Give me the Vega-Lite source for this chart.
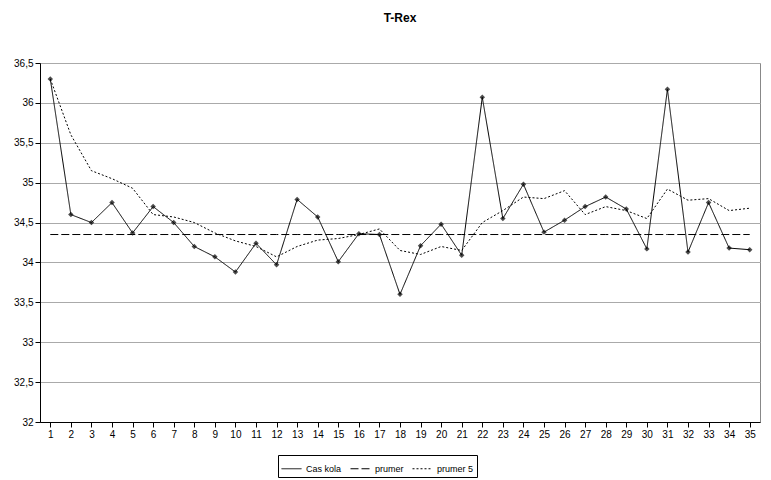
{
  "$schema": "https://vega.github.io/schema/vega-lite/v6.json",
  "width": 720,
  "height": 359,
  "autosize": {"type": "none"},
  "padding": {"left": 40, "top": 63, "right": 11, "bottom": 58},
  "background": "white",
  "title": {"text": "T-Rex", "fontSize": 12, "font": "Arial", "fontWeight": "bold", "offset": 33, "anchor": "middle"},
  "config": {
    "view": {"stroke": "#888"},
    "axis": {"labelFont": "Arial", "labelFontSize": 10, "labelColor": "black", "domainColor": "black", "tickColor": "black"},
    "legend": {"labelFont": "Arial", "labelFontSize": 10}
  },
  "data": {"values": [
    {"x": 1, "cas": 36.3, "prumer": 34.35, "p5": 36.3},
    {"x": 2, "cas": 34.6, "prumer": 34.35, "p5": 35.6},
    {"x": 3, "cas": 34.5, "prumer": 34.35, "p5": 35.15},
    {"x": 4, "cas": 34.75, "prumer": 34.35, "p5": 35.05},
    {"x": 5, "cas": 34.37, "prumer": 34.35, "p5": 34.93},
    {"x": 6, "cas": 34.7, "prumer": 34.35, "p5": 34.6},
    {"x": 7, "cas": 34.5, "prumer": 34.35, "p5": 34.57},
    {"x": 8, "cas": 34.2, "prumer": 34.35, "p5": 34.5},
    {"x": 9, "cas": 34.07, "prumer": 34.35, "p5": 34.37},
    {"x": 10, "cas": 33.88, "prumer": 34.35, "p5": 34.27},
    {"x": 11, "cas": 34.24, "prumer": 34.35, "p5": 34.2},
    {"x": 12, "cas": 33.97, "prumer": 34.35, "p5": 34.07},
    {"x": 13, "cas": 34.79, "prumer": 34.35, "p5": 34.2},
    {"x": 14, "cas": 34.57, "prumer": 34.35, "p5": 34.28},
    {"x": 15, "cas": 34.01, "prumer": 34.35, "p5": 34.3},
    {"x": 16, "cas": 34.36, "prumer": 34.35, "p5": 34.35},
    {"x": 17, "cas": 34.35, "prumer": 34.35, "p5": 34.42},
    {"x": 18, "cas": 33.6, "prumer": 34.35, "p5": 34.15},
    {"x": 19, "cas": 34.21, "prumer": 34.35, "p5": 34.1},
    {"x": 20, "cas": 34.48, "prumer": 34.35, "p5": 34.2},
    {"x": 21, "cas": 34.09, "prumer": 34.35, "p5": 34.15},
    {"x": 22, "cas": 36.07, "prumer": 34.35, "p5": 34.5},
    {"x": 23, "cas": 34.55, "prumer": 34.35, "p5": 34.65},
    {"x": 24, "cas": 34.98, "prumer": 34.35, "p5": 34.82},
    {"x": 25, "cas": 34.38, "prumer": 34.35, "p5": 34.8},
    {"x": 26, "cas": 34.53, "prumer": 34.35, "p5": 34.9},
    {"x": 27, "cas": 34.7, "prumer": 34.35, "p5": 34.6},
    {"x": 28, "cas": 34.82, "prumer": 34.35, "p5": 34.7},
    {"x": 29, "cas": 34.67, "prumer": 34.35, "p5": 34.65},
    {"x": 30, "cas": 34.17, "prumer": 34.35, "p5": 34.55},
    {"x": 31, "cas": 36.17, "prumer": 34.35, "p5": 34.92},
    {"x": 32, "cas": 34.13, "prumer": 34.35, "p5": 34.78},
    {"x": 33, "cas": 34.75, "prumer": 34.35, "p5": 34.8},
    {"x": 34, "cas": 34.18, "prumer": 34.35, "p5": 34.65},
    {"x": 35, "cas": 34.16, "prumer": 34.35, "p5": 34.68}
  ]},
  "transform": [
    {"fold": ["cas", "prumer", "p5"], "as": ["key", "value"]},
    {"calculate": "datum.key == 'cas' ? 'Cas kola' : datum.key == 'prumer' ? 'prumer' : 'prumer 5'", "as": "series"}
  ],
  "encoding": {
    "x": {"field": "x", "type": "ordinal", "title": null,
      "scale": {"paddingInner": 0, "paddingOuter": 0},
      "axis": {"labelAngle": 0, "grid": false, "ticks": true}},
    "y": {"field": "value", "type": "quantitative", "title": null,
      "scale": {"domain": [32, 36.5], "nice": false, "zero": false},
      "axis": {"values": [32, 32.5, 33, 33.5, 34, 34.5, 35, 35.5, 36, 36.5], "format": ".1~f", "formatType": "number", "labelExpr": "replace(datum.label, '.', ',')", "gridColor": "#aaa", "gridOpacity": 1}}
  },
  "layer": [
    {
      "mark": {"type": "line", "strokeWidth": 1},
      "encoding": {
        "detail": {"field": "series"},
        "color": {"value": "black"},
        "strokeDash": {"field": "series", "type": "nominal", "title": null,
          "scale": {"domain": ["Cas kola", "prumer", "prumer 5"], "range": [[1, 0], [8, 3], [2, 2]]},
          "legend": {"orient": "none", "legendX": 238, "legendY": 392, "direction": "horizontal", "strokeColor": "black", "padding": 3, "symbolType": "stroke", "symbolStrokeWidth": 1, "symbolStrokeColor": "black", "symbolSize": 400, "labelFontSize": 9, "columnPadding": 6}}
      }
    },
    {
      "transform": [{"filter": "datum.key == 'cas'"}],
      "mark": {"type": "point", "shape": "diamond", "filled": true, "color": "black", "size": 30}
    }
  ]
}
